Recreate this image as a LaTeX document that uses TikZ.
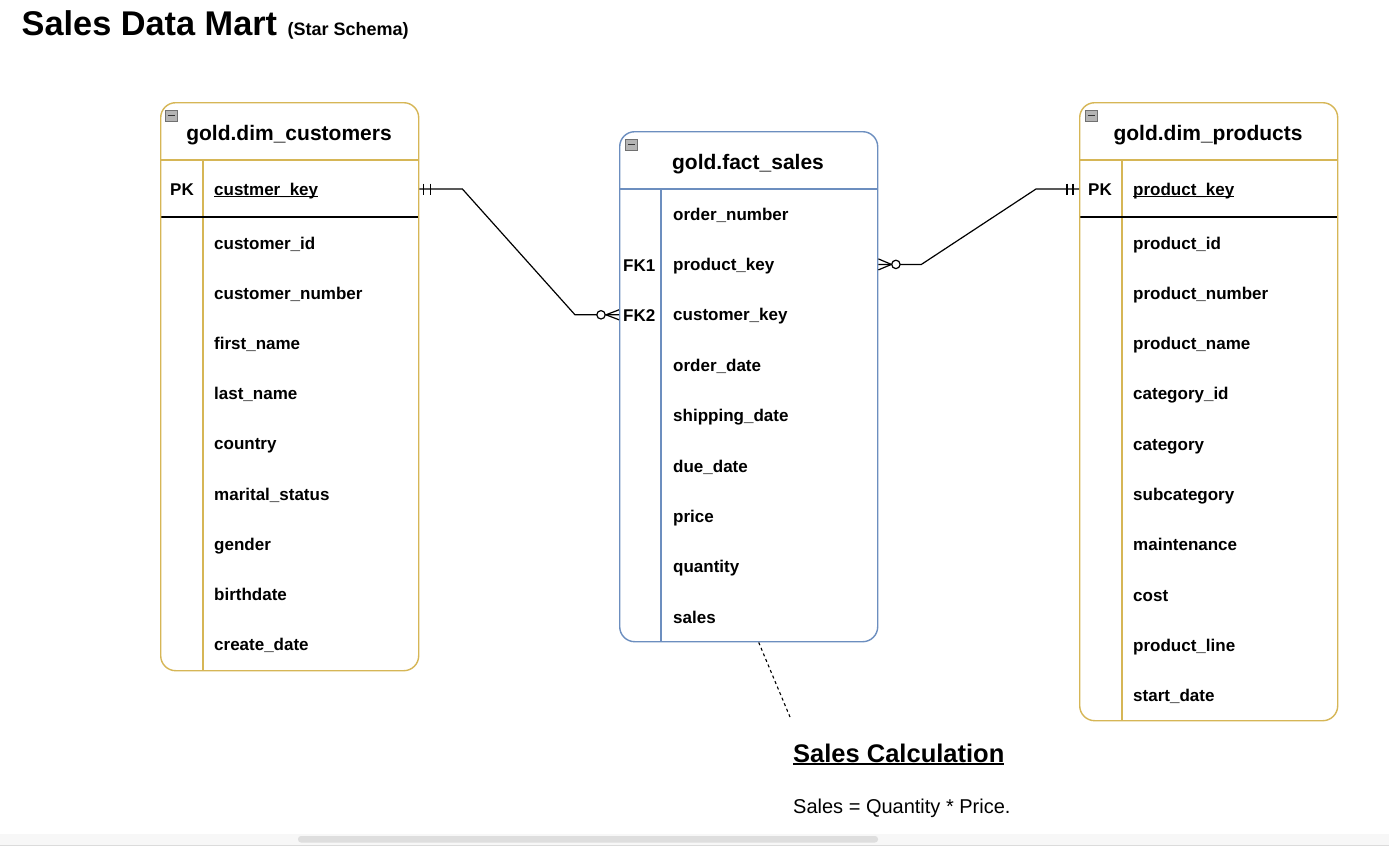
\documentclass[tikz,border=0pt]{standalone}
\usepackage{fontspec}
\setmainfont{Liberation Sans}
\usetikzlibrary{calc,backgrounds}
\definecolor{ybord}{HTML}{D6B656}
\definecolor{yfill}{HTML}{FFF2CC}
\definecolor{bbord}{HTML}{6C8EBF}
\definecolor{bfill}{HTML}{DAE8FC}
\definecolor{icofill}{HTML}{B4B4B4}
\definecolor{icobord}{HTML}{707070}
\newcommand\myul[3]{\setbox0\hbox{#3}\rlap{\rule[-#1]{\wd0}{#2}}\box0}
\begin{document}
\begin{tikzpicture}[x=1pt,y=-1pt,
  tbl/.style={anchor=north west, draw=#1, line width=1.4pt, rounded corners=15pt, inner sep=0pt},
  row/.style={anchor=west, inner sep=0pt, text height=12pt, text depth=0pt, font=\fontsize{17}{20}\selectfont\bfseries},
  hdr/.style={anchor=base, inner sep=0pt, font=\fontsize{21}{25}\selectfont\bfseries},
  sep/.style={draw=#1, line width=1.4pt},
  conn/.style={draw=black, line width=1.2pt},
  ico/.style={fill=icofill, draw=icobord, line width=0.8pt}]
\useasboundingbox (0,0) rectangle (1389,847);
\fill[white] (0,0) rectangle (1389,847);

% title
\node[anchor=base west, inner sep=0pt, font=\fontsize{34.3}{41}\selectfont\bfseries] (title) at (21.5,35) {Sales Data Mart};
\node[anchor=base west, inner sep=0pt, font=\fontsize{18}{21}\selectfont\bfseries] (subtitle) at ($(title.base east)+(10,0)$) {(Star Schema)};

% ---------- customers ----------
\begin{scope}[on background layer]
  \fill[yfill, rounded corners=15pt] (160,102) rectangle (418,160);
  \fill[yfill] (160,135) rectangle (418,160);
\end{scope}
\draw[sep=ybord] (160,160) -- (418,160);
\draw[sep=ybord] (203,160) -- (203,670);
\draw[line width=1.3pt, black] (160,217) -- (418,217);
\node[tbl=ybord, minimum width=258pt, minimum height=568pt] (cust) at (160,102) {};
\draw[ico] (165,110) rectangle (177,121);
\draw[line width=1pt, black!80] (167.5,115.5) -- (174.5,115.5);
\node[hdr] (custh) at (289,140.5) {gold.dim\_customers};
\node[row] (cpk) at (170,189) {PK};
\node[row] (ck) at (214,189) {\myul{1.6pt}{1.1pt}{custmer\_key}};
\foreach \t [count=\i from 0] in {customer\_id,customer\_number,first\_name,last\_name,country,marital\_status,gender,birthdate,create\_date}
  \node[row] (c\i) at (214,243+50.2*\i) {\t};

% ---------- fact ----------
\begin{scope}[on background layer]
  \fill[bfill, rounded corners=15pt] (619,131) rectangle (877,189);
  \fill[bfill] (619,165) rectangle (877,189);
\end{scope}
\draw[sep=bbord] (619,189) -- (877,189);
\draw[sep=bbord] (661,189) -- (661,641);
\node[tbl=bbord, minimum width=258pt, minimum height=510pt] (fact) at (619,131) {};
\draw[ico] (625,139) rectangle (637,150);
\draw[line width=1pt, black!80] (627.5,144.5) -- (634.5,144.5);
\node[hdr] (facth) at (748,169.5) {gold.fact\_sales};
\node[row] (fk1) at (623,265) {FK1};
\node[row] (fk2) at (623,315) {FK2};
\foreach \t [count=\i from 0] in {order\_number,product\_key,customer\_key,order\_date,shipping\_date,due\_date,price,quantity,sales}
  \node[row] (f\i) at (673,214+50.4*\i) {\t};

% ---------- products ----------
\begin{scope}[on background layer]
  \fill[yfill, rounded corners=15pt] (1079,102) rectangle (1337,160);
  \fill[yfill] (1079,135) rectangle (1337,160);
\end{scope}
\draw[sep=ybord] (1079,160) -- (1337,160);
\draw[sep=ybord] (1122,160) -- (1122,720);
\draw[line width=1.3pt, black] (1079,217) -- (1337,217);
\node[tbl=ybord, minimum width=258pt, minimum height=618pt] (prod) at (1079,102) {};
\draw[ico] (1085,110) rectangle (1097,121);
\draw[line width=1pt, black!80] (1087.5,115.5) -- (1094.5,115.5);
\node[hdr] (prodh) at (1208,140.5) {gold.dim\_products};
\node[row] (ppk) at (1088,189) {PK};
\node[row] (pk) at (1133,189) {\myul{1.6pt}{1.1pt}{product\_key}};
\foreach \t [count=\i from 0] in {product\_id,product\_number,product\_name,category\_id,category,subcategory,maintenance,cost,product\_line,start\_date}
  \node[row] (p\i) at (1133,243+50.3*\i) {\t};

% ---------- connector customers -> fact ----------
\coordinate (a1) at (cust.east |- ck);
\coordinate (b1) at (fact.west |- f2);
\draw[conn] (a1) -- ++(43,0) -- ($(b1)+(-44,0)$) -- (b1);
\draw[conn] ($(a1)+(4,-5.5)$) -- ++(0,11);
\draw[conn] ($(a1)+(11,-5.5)$) -- ++(0,11);
\draw[conn] ($(b1)+(-13,0)$) -- ($(b1)+(0,-5)$);
\draw[conn] ($(b1)+(-13,0)$) -- ($(b1)+(0,5)$);
\draw[conn, fill=white] ($(b1)+(-18,0)$) circle (4.2pt);

% ---------- connector fact -> products ----------
\coordinate (a2) at (fact.east |- f1);
\coordinate (b2) at (prod.west |- pk);
\draw[conn] (a2) -- ++(43,0) -- ($(b2)+(-43,0)$) -- (b2);
\draw[conn] ($(b2)+(-12,-5.5)$) -- ++(0,11);
\draw[conn] ($(b2)+(-6,-5.5)$) -- ++(0,11);
\draw[conn] ($(a2)+(13,0)$) -- ($(a2)+(0,-5.5)$);
\draw[conn] ($(a2)+(13,0)$) -- ($(a2)+(0,5.5)$);
\draw[conn, fill=white] ($(a2)+(17.5,0)$) circle (4.2pt);

% ---------- note ----------
\node[anchor=base west, inner sep=0pt, font=\fontsize{25.5}{30}\selectfont\bfseries] (calc) at (793,762.7) {\myul{2.4pt}{1.8pt}{Sales Calculation}};
\node[anchor=base west, inner sep=0pt, font=\fontsize{20}{24}\selectfont] (formula) at (793,813.3) {Sales = Quantity * Price.};
\coordinate (noteend) at (790,717);
\draw[line width=1.1pt, dash pattern=on 3pt off 3pt] ($(fact.south)+(10,0)$) -- (noteend);

% ---------- scrollbar ----------
\fill[black!3] (0,834) rectangle (1389,845);
\draw[black!14, line width=1pt] (0,845.5) -- (1389,845.5);
\fill[black!13, rounded corners=3pt] (298,836) rectangle (878,842.5);
\end{tikzpicture}
\end{document}
